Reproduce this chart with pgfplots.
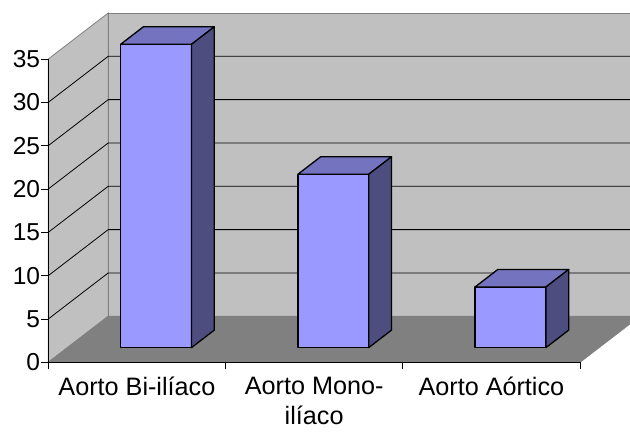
\documentclass[border=0pt]{standalone}
\usepackage{fontspec}
\setmainfont{Liberation Sans}
\usepackage{pgfplots}
\pgfplotsset{compat=1.18}
\definecolor{wall}{HTML}{C0C0C0}
\definecolor{floorc}{HTML}{808080}
\definecolor{edge}{HTML}{808080}
\definecolor{barfront}{HTML}{9999FF}
\definecolor{bartop}{HTML}{7373BF}
\definecolor{barside}{HTML}{4D4D80}
\newcommand\DX{0.338}
\newcommand\DY{5.31}
\newcommand\drawbar[2]{%
  \pgfmathsetmacro\xa{#1-0.2+0.32*\DX}%
  \pgfmathsetmacro\xb{#1+0.2+0.32*\DX}%
  \pgfmathsetmacro\xc{#1-0.2+0.70*\DX}%
  \pgfmathsetmacro\xd{#1+0.2+0.70*\DX}%
  \pgfmathsetmacro\ya{0.32*\DY}%
  \pgfmathsetmacro\yb{#2+0.32*\DY}%
  \pgfmathsetmacro\yc{0.70*\DY}%
  \pgfmathsetmacro\yd{#2+0.70*\DY}%
  \addplot[fill=barfront, draw=black, line width=1.3pt, line join=round] coordinates {(\xa,\ya) (\xb,\ya) (\xb,\yb) (\xa,\yb)} -- cycle;
  \addplot[fill=bartop, draw=black, line width=1.3pt, line join=round] coordinates {(\xa,\yb) (\xb,\yb) (\xd,\yd) (\xc,\yd)} -- cycle;
  \addplot[fill=barside, draw=black, line width=1.3pt, line join=round] coordinates {(\xb,\ya) (\xd,\yc) (\xd,\yd) (\xb,\yb)} -- cycle;
}
\begin{document}
\begin{tikzpicture}
\useasboundingbox (-48.3pt,-69.7pt) rectangle (581.7pt,362.3pt);
\clip (-48.3pt,-69.7pt) rectangle (581.7pt,362.3pt);
\begin{axis}[
  at={(0,0)}, anchor=south west,
  scale only axis, width=531.7pt, height=303.3pt,
  xmin=0.5, xmax=3.5, ymin=0, ymax=35,
  clip=false, axis on top,
  axis x line*=bottom, axis y line*=left,
  axis line style={black, line width=0.8pt},
  ytick={0,5,...,35},
  xtick={0.5,1.5,2.5,3.5}, xticklabels={},
  extra x ticks={1,2,3},
  extra x tick labels={Aorto Bi-ilíaco, {Aorto Mono-\\ilíaco}, Aorto Aórtico},
  extra x tick style={major tick length=0pt, tick label style={align=center, yshift=-11pt, font=\fontsize{25.2}{30}\selectfont}},
  tick align=outside, major tick length=7pt,
  tick style={black, line width=0.8pt},
  tick label style={font=\fontsize{24.5}{29.4}\selectfont},
  /pgf/number format/assume math mode=true,
  yticklabel style={inner sep=1pt},
]
% left wall
\addplot[fill=wall, draw=edge, line width=0.8pt] coordinates {(0.5,0) (0.5,35) (0.838,40.31) (0.838,5.31)} -- cycle;
% back wall
\addplot[fill=wall, draw=edge, line width=0.8pt] coordinates {(0.838,5.31) (3.838,5.31) (3.838,40.31) (0.838,40.31)} -- cycle;
% floor
\addplot[fill=floorc, draw=edge, line width=0.8pt] coordinates {(0.5,0) (3.5,0) (3.838,5.31) (0.838,5.31)} -- cycle;
% gridlines
\addplot[black, line width=0.8pt] coordinates {(0.5,5) (0.838,10.31) (3.838,10.31)};
\addplot[black, line width=0.8pt] coordinates {(0.5,10) (0.838,15.31) (3.838,15.31)};
\addplot[black, line width=0.8pt] coordinates {(0.5,15) (0.838,20.31) (3.838,20.31)};
\addplot[black, line width=0.8pt] coordinates {(0.5,20) (0.838,25.31) (3.838,25.31)};
\addplot[black, line width=0.8pt] coordinates {(0.5,25) (0.838,30.31) (3.838,30.31)};
\addplot[black, line width=0.8pt] coordinates {(0.5,30) (0.838,35.31) (3.838,35.31)};
% bars
\drawbar{1}{35}
\drawbar{2}{20}
\drawbar{3}{7}
\end{axis}
\end{tikzpicture}
\end{document}
